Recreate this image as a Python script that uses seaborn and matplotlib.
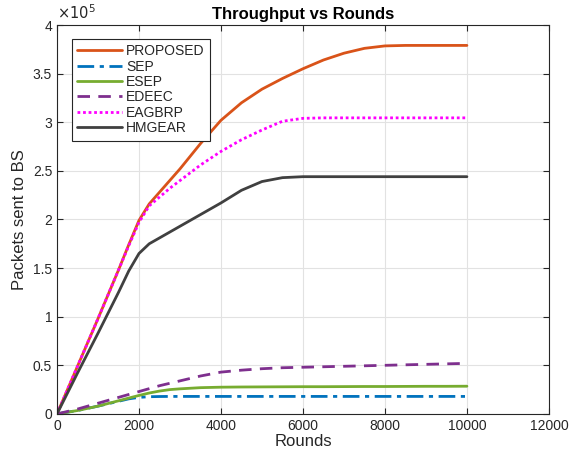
import numpy as np
import pandas as pd
import matplotlib
matplotlib.use('Agg')
import matplotlib.pyplot as plt
import seaborn as sns
from matplotlib.ticker import FuncFormatter, MultipleLocator

rounds = [0, 500, 1000, 1500, 1750, 2000, 2250, 2500, 2750, 3000, 3500, 4000,
          4500, 5000, 5500, 6000, 6500, 7000, 7500, 8000, 8500, 9000, 9500, 10000]

# packets sent to BS, in units of 1e5
proposed = [0, 0.49, 0.98, 1.48, 1.74, 1.99, 2.16, 2.28, 2.40, 2.52, 2.78, 3.02,
            3.20, 3.34, 3.45, 3.55, 3.64, 3.71, 3.76, 3.785, 3.79, 3.79, 3.79, 3.79]
sep = [0, 0.035, 0.08, 0.13, 0.155, 0.17, 0.177, 0.179, 0.18, 0.18, 0.18, 0.18,
       0.18, 0.18, 0.18, 0.18, 0.18, 0.18, 0.18, 0.18, 0.18, 0.18, 0.18, 0.18]
esep = [0, 0.035, 0.08, 0.135, 0.163, 0.19, 0.215, 0.235, 0.25, 0.258, 0.27, 0.275,
        0.277, 0.278, 0.279, 0.28, 0.28, 0.281, 0.282, 0.282, 0.283, 0.284, 0.284, 0.285]
edeec = [0, 0.05, 0.11, 0.17, 0.20, 0.23, 0.26, 0.29, 0.315, 0.34, 0.39, 0.43,
         0.45, 0.465, 0.475, 0.48, 0.485, 0.49, 0.495, 0.50, 0.505, 0.51, 0.515, 0.52]
eagbrp = [0, 0.49, 0.98, 1.48, 1.73, 1.97, 2.14, 2.23, 2.32, 2.40, 2.56, 2.70,
          2.82, 2.92, 3.01, 3.04, 3.045, 3.045, 3.045, 3.045, 3.045, 3.045, 3.045, 3.045]
hmgear = [0, 0.42, 0.83, 1.25, 1.47, 1.65, 1.75, 1.81, 1.87, 1.93, 2.05, 2.17,
          2.30, 2.39, 2.43, 2.44, 2.44, 2.44, 2.44, 2.44, 2.44, 2.44, 2.44, 2.44]

series = [
    ('PROPOSED', proposed, '#D95319', '-'),
    ('SEP', sep, '#0072BD', (0, (6, 2, 1.5, 2))),
    ('ESEP', esep, '#77AC30', '-'),
    ('EDEEC', edeec, '#7E2F8E', (0, (4.5, 3))),
    ('EAGBRP', eagbrp, '#FF00FF', (0, (1, 1))),
    ('HMGEAR', hmgear, '#404040', '-'),
]

sns.set_theme(style='ticks')
plt.rcParams['font.family'] = ['Liberation Sans', 'DejaVu Sans']

fig = plt.figure(figsize=(5.7, 4.63), dpi=100)
ax = fig.add_axes([0.1, 0.106, 0.863, 0.84])

for name, vals, color, ls in series:
    df = pd.DataFrame({'Rounds': rounds, 'Packets': np.array(vals) * 1e5})
    sns.lineplot(data=df, x='Rounds', y='Packets', ax=ax, color=color,
                 linestyle=ls, linewidth=2.0, label=name)

ax.set_xlim(0, 12000)
ax.set_ylim(0, 4e5)
ax.xaxis.set_major_locator(MultipleLocator(2000))
ax.yaxis.set_major_locator(MultipleLocator(0.5e5))
ax.yaxis.set_major_formatter(FuncFormatter(lambda v, p: f'{v / 1e5:g}'))
ax.grid(True, color='#e2e2e2', linewidth=0.8)
ax.tick_params(direction='in', length=4, width=0.8, colors='#262626',
               labelsize=10, top=True, right=True)
for sp in ax.spines.values():
    sp.set_color('#262626')
    sp.set_linewidth(0.8)

ax.set_xlabel('Rounds', fontsize=12, color='#262626', labelpad=1)
ax.set_ylabel('Packets sent to BS', fontsize=12, color='#262626', labelpad=4)
ax.set_title('Throughput vs Rounds', fontsize=12, fontweight='bold',
             color='black', pad=4)
ax.text(0, 1.008, r'$\times10^5$', transform=ax.transAxes, fontsize=10.5,
        color='#262626', ha='left', va='bottom')

leg = ax.legend(loc='upper left', bbox_to_anchor=(0.03, 0.965), fontsize=10,
                frameon=True, fancybox=False, framealpha=1, edgecolor='#262626',
                handlelength=3.2, handletextpad=0.3, labelspacing=0.1,
                borderpad=0.4, borderaxespad=0)
leg.get_frame().set_linewidth(0.8)

fig.savefig('out.png', dpi=100)
